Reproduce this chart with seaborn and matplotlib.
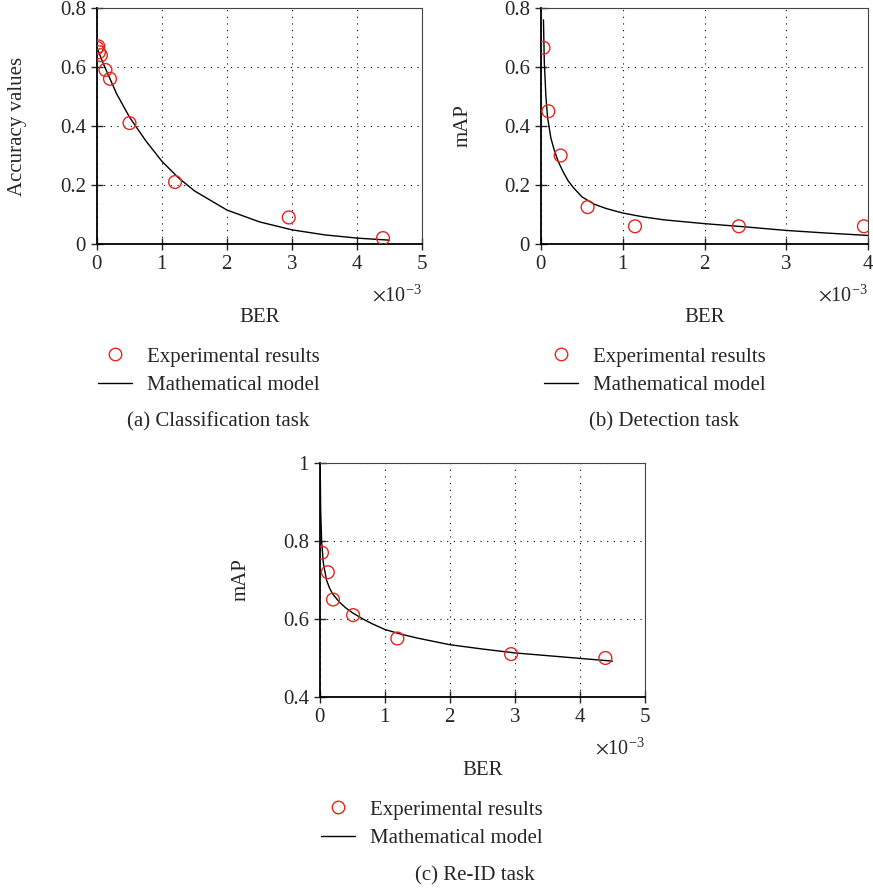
import numpy as np
import pandas as pd
import matplotlib
matplotlib.use("Agg")
import matplotlib.pyplot as plt
from matplotlib.lines import Line2D
from matplotlib.ticker import FuncFormatter, ScalarFormatter
import seaborn as sns

# ---------------- data (BER values in units of 1e-3) ----------------
a_exp_ber = [0.0, 0.02, 0.03, 0.06, 0.13, 0.20, 0.50, 1.20, 2.95, 4.40]
a_exp_acc = [0.665, 0.67, 0.65, 0.64, 0.59, 0.56, 0.41, 0.21, 0.09, 0.02]
a_mod_ber = [0.0, 0.1, 0.2, 0.3, 0.5, 0.75, 1.0, 1.25, 1.5, 2.0, 2.5, 3.0, 3.5, 4.0, 4.5]
a_mod_acc = [0.665, 0.61, 0.56, 0.51, 0.43, 0.35, 0.28, 0.225, 0.18, 0.115, 0.075, 0.048, 0.031, 0.02, 0.013]

b_exp_ber = [0.03, 0.09, 0.24, 0.57, 1.15, 2.42, 3.95]
b_exp_map = [0.665, 0.45, 0.30, 0.125, 0.06, 0.06, 0.06]
b_mod_ber = [0.03, 0.04, 0.06, 0.08, 0.12, 0.16, 0.21, 0.27, 0.33, 0.4, 0.5, 0.65, 0.8, 1.0, 1.25, 1.5, 2.0, 2.5, 3.0, 3.5, 4.0]
b_mod_map = [0.76, 0.62, 0.50, 0.43, 0.36, 0.32, 0.28, 0.245, 0.215, 0.19, 0.16, 0.135, 0.12, 0.105, 0.092, 0.082, 0.069, 0.058, 0.046, 0.037, 0.029]

c_exp_ber = [0.03, 0.12, 0.20, 0.51, 1.19, 2.94, 4.39]
c_exp_map = [0.77, 0.72, 0.65, 0.61, 0.55, 0.51, 0.50]
c_mod_ber = [0.003, 0.01, 0.025, 0.05, 0.1, 0.15, 0.2, 0.3, 0.4, 0.5, 0.66, 0.8, 1.0, 1.25, 1.5, 2.0, 2.5, 3.0, 3.5, 4.0, 4.5]
c_mod_map = [0.99, 0.88, 0.80, 0.745, 0.70, 0.678, 0.663, 0.643, 0.628, 0.616, 0.60, 0.588, 0.573, 0.561, 0.551, 0.534, 0.523, 0.513, 0.506, 0.499, 0.492]

legend_labels = ["Experimental results", "Mathematical model"]
captions = ["(a) Classification task", "(b) Detection task", "(c) Re-ID task"]
ylabels = ["Accuracy values", "mAP", "mAP"]
xlabel = "BER"
offset_label = r"$\times\mathdefault{10^{-3}}$"

# ---------------- style ----------------
sns.set_style("ticks")
plt.rcParams["font.family"] = ["Liberation Serif", "DejaVu Serif"]
plt.rcParams["mathtext.fontset"] = "stix"
FS = 15
RED = "#e5261e"

W, H = 873, 893
fig = plt.figure(figsize=(W / 100, H / 100), dpi=100)


def axes_px(l, r, t, b):
    return fig.add_axes([l / W, 1 - b / H, (r - l) / W, (b - t) / H])


def style_axes(ax, xmax, ylim, yticks, xticks, ylab, ylab_x, xlab_y, off_y):
    ax.set_xlim(0, xmax * 1e-3)
    ax.set_ylim(*ylim)
    ax.set_xticks([v * 1e-3 for v in xticks])
    ax.set_yticks(yticks)
    ax.yaxis.set_major_formatter(FuncFormatter(lambda v, p: "%g" % round(v, 3)))
    fmt = ScalarFormatter(useMathText=True)
    fmt.set_powerlimits((-3, -3))
    ax.xaxis.set_major_formatter(fmt)
    ax.xaxis.get_offset_text().set_visible(False)
    ax.text(1.0, off_y, offset_label, transform=ax.transAxes, ha="right",
            va="center", fontsize=FS - 0.5)
    ax.tick_params(direction="inout", length=8, width=1, labelsize=FS, pad=4,
                   top=False, right=False)
    for s in ["left", "bottom"]:
        ax.spines[s].set_linewidth(1.3)
        ax.spines[s].set_color("black")
    for s in ["top", "right"]:
        ax.spines[s].set_visible(True)
        ax.spines[s].set_linewidth(0.8)
        ax.spines[s].set_color("#444444")
    ax.grid(True, color="black", linestyle=(0, (1, 5)), linewidth=0.8)
    ax.set_xlabel(xlabel, fontsize=FS)
    ax.set_ylabel(ylab, fontsize=FS)
    ax.yaxis.set_label_coords(ylab_x, 0.5)
    ax.xaxis.set_label_coords(0.5, xlab_y)


def draw(ax, ex, ey, mx, my):
    dfe = pd.DataFrame({"ber": np.array(ex) * 1e-3, "val": ey})
    dfm = pd.DataFrame({"ber": np.array(mx) * 1e-3, "val": my})
    sns.lineplot(data=dfm, x="ber", y="val", ax=ax, color="black", linewidth=1.0,
                 sort=True, zorder=3)
    sns.scatterplot(data=dfe, x="ber", y="val", ax=ax, marker="o", s=85,
                    facecolor="none", edgecolor=RED, linewidth=1.0, zorder=4)


def add_legend(x_px, y_px):
    handles = [
        Line2D([], [], marker="o", linestyle="none", markersize=9,
               markerfacecolor="none", markeredgecolor=RED, markeredgewidth=1.0),
        Line2D([], [], color="black", linewidth=1.0),
    ]
    fig.legend(handles, legend_labels, loc="upper left",
               bbox_to_anchor=(x_px / W, 1 - y_px / H), frameon=False,
               fontsize=FS, handlelength=1.65, handletextpad=0.7,
               labelspacing=0.42, borderpad=0, borderaxespad=0)


# panel (a)
ax1 = axes_px(97, 422, 8, 244)
draw(ax1, a_exp_ber, a_exp_acc, a_mod_ber, a_mod_acc)
style_axes(ax1, 5, (0, 0.8), [0, 0.2, 0.4, 0.6, 0.8], [0, 1, 2, 3, 4, 5],
           ylabels[0], -0.215, -0.27, -0.22)
add_legend(98, 347)
fig.text(218 / W, 1 - 422 / H, captions[0], ha="center", va="center", fontsize=FS)

# panel (b)
ax2 = axes_px(541, 868, 8, 244)
draw(ax2, b_exp_ber, b_exp_map, b_mod_ber, b_mod_map)
style_axes(ax2, 4, (0, 0.8), [0, 0.2, 0.4, 0.6, 0.8], [0, 1, 2, 3, 4],
           ylabels[1], -0.208, -0.27, -0.22)
add_legend(544, 347)
fig.text(664 / W, 1 - 422 / H, captions[1], ha="center", va="center", fontsize=FS)

# panel (c)
ax3 = axes_px(320, 645, 463, 697)
draw(ax3, c_exp_ber, c_exp_map, c_mod_ber, c_mod_map)
style_axes(ax3, 5, (0.4, 1.0), [0.4, 0.6, 0.8, 1.0], [0, 1, 2, 3, 4, 5],
           ylabels[2], -0.215, -0.275, -0.22)
add_legend(321, 800)
fig.text(475 / W, 1 - 876 / H, captions[2], ha="center", va="center", fontsize=FS)

fig.savefig("out.png", dpi=100)
